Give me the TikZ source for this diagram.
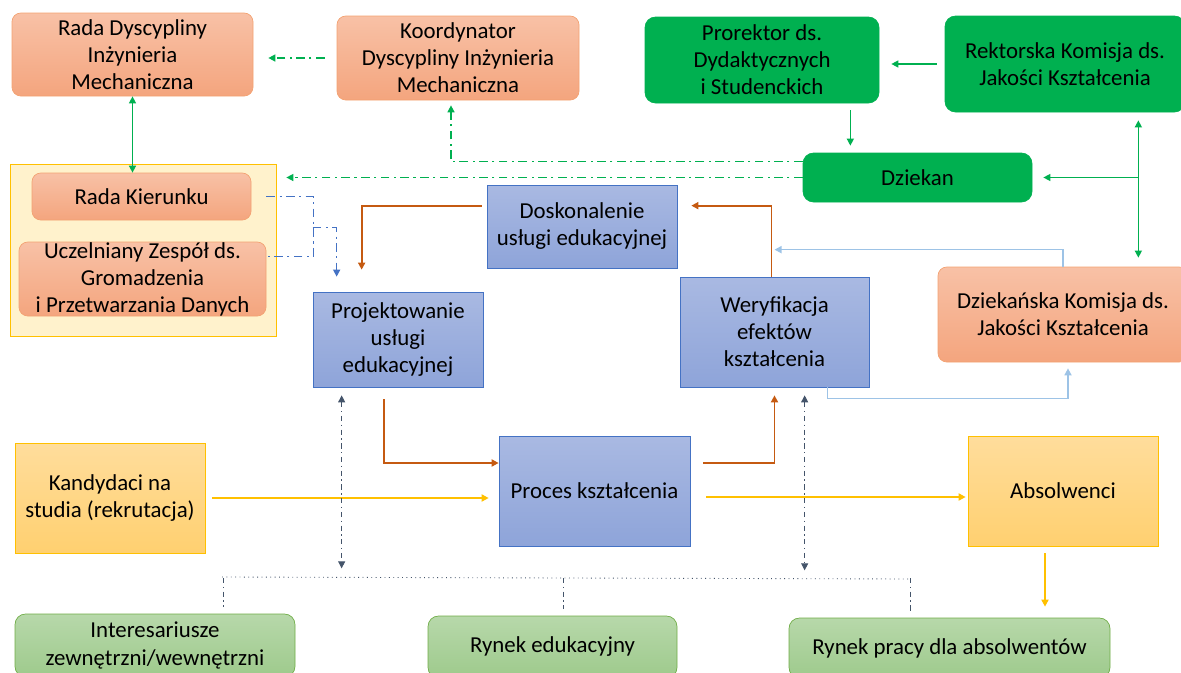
\documentclass[tikz,border=0pt]{standalone}
\usepackage{fontspec}
\setmainfont{Carlito}
\usetikzlibrary{arrows.meta,calc}
\definecolor{salmonTop}{HTML}{F8C1A6}
\definecolor{salmonBot}{HTML}{F4A57E}
\definecolor{salmonLine}{HTML}{F3A272}
\definecolor{grn}{HTML}{00B050}
\definecolor{blueTop}{HTML}{A9B9E2}
\definecolor{blueBot}{HTML}{8EA4D9}
\definecolor{blueLine}{HTML}{4472C4}
\definecolor{ylwTop}{HTML}{FFDD9C}
\definecolor{ylwBot}{HTML}{FFD070}
\definecolor{ylwLine}{HTML}{FFC000}
\definecolor{lgTop}{HTML}{B7D8AA}
\definecolor{lgBot}{HTML}{9ECA8C}
\definecolor{lgLine}{HTML}{70AD47}
\definecolor{rust}{HTML}{C55A11}
\definecolor{sky}{HTML}{9DC3E6}
\definecolor{slate}{HTML}{44546A}
\definecolor{pale}{HTML}{FFF2CC}
\begin{document}
\begin{tikzpicture}[x=0.02cm, y=-0.02cm,
    box/.style={align=center, inner sep=0pt, font=\fontsize{13}{15.4}\selectfont},
    wh/.style 2 args={minimum width=#1*0.02cm, minimum height=#2*0.02cm},
    salmon/.style={box, rounded corners=5pt, top color=salmonTop, bottom color=salmonBot, draw=salmonLine},
    dgreen/.style={box, rounded corners=6pt, fill=grn, draw=grn},
    bluebox/.style={box, top color=blueTop, bottom color=blueBot, draw=blueLine},
    ylwbox/.style={box, top color=ylwTop, bottom color=ylwBot, draw=ylwLine},
    lgbox/.style={box, rounded corners=6pt, top color=lgTop, bottom color=lgBot, draw=lgLine},
    tip/.style={-{Triangle[length=4pt, width=4pt]}},
    both/.style={{Triangle[length=4pt, width=4pt]}-{Triangle[length=4pt, width=4pt]}},
    gline/.style={grn, line width=0.8pt},
    gdd/.style={gline, dash pattern=on 5pt off 2.5pt on 1.2pt off 2.5pt},
    bluedd/.style={blueLine, line width=0.8pt, dash pattern=on 5pt off 2.5pt on 1.2pt off 2.5pt},
    slatedd/.style={slate, line width=0.5pt, dash pattern=on 3pt off 2pt on 0.8pt off 2pt},
    rustline/.style={rust, line width=1.1pt},
    skyline/.style={sky, line width=0.9pt},
    ylwline/.style={ylwLine, line width=1.1pt}]
    \useasboundingbox (0,0) rectangle (1181,673);
    \node[salmon, wh={241}{83}] (RDM) at (132.5, 54.5) {Rada Dyscypliny\\Inżynieria\\Mechaniczna};
    \node[salmon, wh={242}{84}] (KDM) at (458, 58) {Koordynator\\Dyscypliny Inżynieria\\Mechaniczna};
    \node[dgreen, wh={234}{86}] (PR) at (762, 60) {Prorektor ds.\\Dydaktycznych\\i Studenckich};
    \node[dgreen, wh={240}{96}] (RKJ) at (1065, 64) {Rektorska Komisja ds.\\Jakości Kształcenia};
    \node[dgreen, wh={229}{49}] (Dz) at (917.5, 177.5) {Dziekan};
    \node[box, fill=pale, draw=ylwLine, wh={266}{172}] (Grp) at (143, 250) {};
    \node[salmon, wh={219}{47}] (RK) at (141.5, 196.5) {Rada Kierunku};
    \node[salmon, wh={247}{74}] (Ucz) at (142.5, 279) {Uczelniany Zespół ds.\\Gromadzenia\\i Przetwarzania Danych};
    \node[bluebox, wh={190}{83}] (Dosk) at (582, 226.5) {Doskonalenie\\usługi edukacyjnej};
    \node[bluebox, wh={170}{95}] (Proj) at (398, 339.5) {Projektowanie\\usługi\\edukacyjnej};
    \node[bluebox, wh={189}{110}] (Wer) at (774.5, 332) {Weryfikacja\\efektów\\kształcenia};
    \node[salmon, wh={250}{95}] (DKJ) at (1063, 314.5) {Dziekańska Komisja ds.\\Jakości Kształcenia};
    \node[ylwbox, wh={190}{110}] (Kand) at (110, 498) {Kandydaci na\\studia (rekrutacja)};
    \node[bluebox, wh={191}{110}] (PK) at (594.5, 491) {Proces kształcenia};
    \node[ylwbox, wh={190}{110}] (Abs) at (1063, 491) {Absolwenci};
    \node[lgbox, wh={280}{63}] (Int) at (155, 645.5) {Interesariusze\\zewnętrzni/wewnętrzni};
    \node[lgbox, wh={249}{62}] (RE) at (552.5, 647) {Rynek edukacyjny};
    \node[lgbox, wh={321}{60}] (RP) at (949.5, 648) {Rynek pracy dla absolwentów};

    \draw[gdd, tip, shorten <=0.24cm, shorten >=0.3cm] (KDM.west) -- (KDM.west -| RDM.east);
    \draw[gline, both] (RDM.south) -- (RDM.south |- RK.north);
    \draw[gdd, tip, shorten >=0.1cm] ($(Dz.north west)+(0,9)$) -| ($(KDM.south)+(-7,0)$);
    \draw[gdd, tip, shorten >=0.2cm] (Dz.west) -- (Dz.west -| Grp.east);
    \coordinate (p1) at ($(PR.south east)+(-29,0)$);
    \draw[gline, tip, shorten <=0.14cm, shorten >=0.14cm] (p1) -- (p1 |- Dz.north);
    \draw[gline, tip, shorten <=0.16cm, shorten >=0.24cm] (RKJ.west) -- (RKJ.west -| PR.east);
    \coordinate (J) at ($(Dz.east)+(106,0)$);
    \draw[gline, both, shorten <=0.16cm, shorten >=0.18cm] (J |- RKJ.south) -- (J |- DKJ.north);
    \draw[gline, tip, shorten >=0.22cm] (J) -- (J -| Dz.east);

    \draw[bluedd] ($(RK.east)+(15,0)$) -| ($(Ucz.north east)+(47,15)$) -- ($(Ucz.north east)+(2,15)$);
    \draw[bluedd, tip] ($(Proj.north west)+(0,-64)$) -| ($(Proj.north west)+(24,-15)$);

    \draw[rustline, tip] ($(Dosk.north west)+(-5,21)$) -| ($(Proj.north west)+(49,-22)$);
    \draw[rustline, tip] ($(Wer.north)+(-3,0)$) |- ($(Dosk.north east)+(14,21)$);
    \draw[rustline, tip] ($(Proj.south)+(-14,12)$) |- ($(PK.west)+(0,-28)$);
    \draw[rustline, tip] ($(PK.east)+(13,-28)$) -| ($(Wer.south)+(0,8)$);

    \draw[skyline, tip] (DKJ.north) |- ($(Wer.north)+(0,-27)$);
    \draw[skyline, tip] ($(Wer.south)+(53,0)$) |- ($(DKJ.south)+(5,36)$) -- ($(DKJ.south)+(5,6)$);

    \draw[ylwline, tip, shorten <=0.14cm, shorten >=0.2cm] (Kand.east) -- (Kand.east -| PK.west);
    \draw[ylwline, tip, shorten <=0.32cm, shorten >=0.04cm] ($(PK.east)+(0,6)$) -- ($(Abs.west)+(0,6)$);
    \coordinate (a1) at ($(Abs.south)+(-18,0)$);
    \draw[ylwline, tip, shorten <=0.14cm, shorten >=0.22cm] (a1) -- (a1 |- RP.north);

    \draw[slatedd, both] ($(Proj.south west)+(29,8)$) -- ($(Proj.south west)+(29,181)$);
    \draw[slatedd, both] ($(Wer.south west)+(125,8)$) -- ($(Wer.south west)+(125,183)$);
    \draw[slate, line width=0.5pt, dotted] (222,577) -- (910,579);
    \foreach \bx/\tgt in {223/Int, 563/RE, 910/RP}
      \draw[slatedd, shorten >=0.14cm] (\bx,578) -- (\bx,578 |- \tgt.north);
  \end{tikzpicture}
\end{document}
